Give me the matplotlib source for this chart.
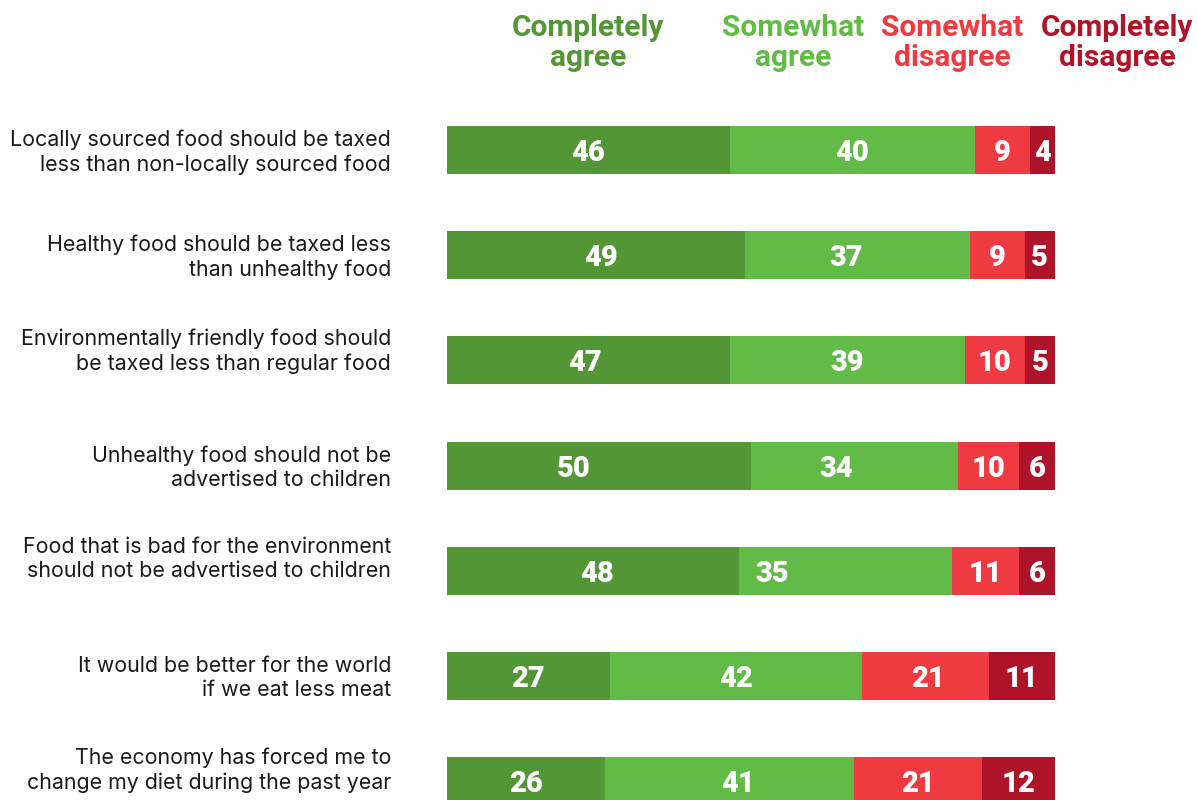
import matplotlib.pyplot as plt
import numpy as np

statements = [
    "Locally sourced food should be taxed\nless than non-locally sourced food",
    "Healthy food should be taxed less\nthan unhealthy food",
    "Environmentally friendly food should\nbe taxed less than regular food",
    "Unhealthy food should not be\nadvertised to children",
    "Food that is bad for the environment\nshould not be advertised to children",
    "It would be better for the world\nif we eat less meat",
    "The economy has forced me to\nchange my diet during the past year",
]
categories = ["Completely\nagree", "Somewhat\nagree", "Somewhat\ndisagree", "Completely\ndisagree"]
completely_agree = [46, 49, 47, 50, 48, 27, 26]
somewhat_agree = [40, 37, 39, 34, 35, 42, 41]
somewhat_disagree = [9, 9, 10, 10, 11, 21, 21]
completely_disagree = [4, 5, 5, 6, 6, 11, 12]

colors = ["#539636", "#62ba47", "#ef3a42", "#ae132a"]

# the original nudges a few value labels off-centre (pixels, per row / per segment)
label_nudge = [
    [0, 0, 0, 0],
    [5, -11, 0, 0],
    [-3, 0, 0, 0],
    [-25, -18, 0, 0],
    [4, -73, 0, 0],
    [0, 0, 2, 0],
    [0, 8, 0, 0],
]
# some statement labels sit a little above their bar (pixels)
text_shift = [0, 0, -11, 0, -14, 0, -13]

W, H = 1197, 800
fig = plt.figure(figsize=(W / 100, H / 100), dpi=100)
# bars span pixel 447..1055, row centres at 150 + 105.2*i
x0, x1 = 447, 1055
row_top, row_step = 150, 105.2
ax = fig.add_axes([x0 / W, 0, (x1 - x0) / W, 1])
ax.set_xlim(0, 100)
ax.set_ylim((H - row_top) / row_step, -row_top / row_step)
ax.axis("off")
px = 100 / (x1 - x0)  # data units per pixel

data = np.array([completely_agree, somewhat_agree, somewhat_disagree, completely_disagree], dtype=float)
shares = data / data.sum(axis=0) * 100  # each bar fills the full width
y = np.arange(len(statements))
left = np.zeros(len(statements))
for k in range(len(categories)):
    ax.barh(y, shares[k], left=left, height=0.456, color=colors[k], linewidth=0)
    for i in range(len(statements)):
        ax.text(left[i] + shares[k][i] / 2 + label_nudge[i][k] * px, y[i], f"{int(data[k][i])}",
                ha="center", va="center_baseline", color="white", fontsize=21,
                fontweight="heavy", family="Roboto")
    left += shares[k]

for i, s in enumerate(statements):
    ax.text((391 - x0) * px, y[i] + (text_shift[i] + 2) / row_step, s, ha="right", va="center",
            fontsize=15.4, family="Inter", linespacing=1.28, color="#1a1a1a", clip_on=False)

header_x = [588, 793, 952, 1117]
for k, c in enumerate(categories):
    ax.text((header_x[k] - x0) * px, (43 - row_top) / row_step, c, ha="center", va="center",
            fontsize=21.5, fontweight="bold", family="Roboto", color=colors[k], linespacing=1.12,
            clip_on=False)

fig.savefig("out.png", dpi=100)
